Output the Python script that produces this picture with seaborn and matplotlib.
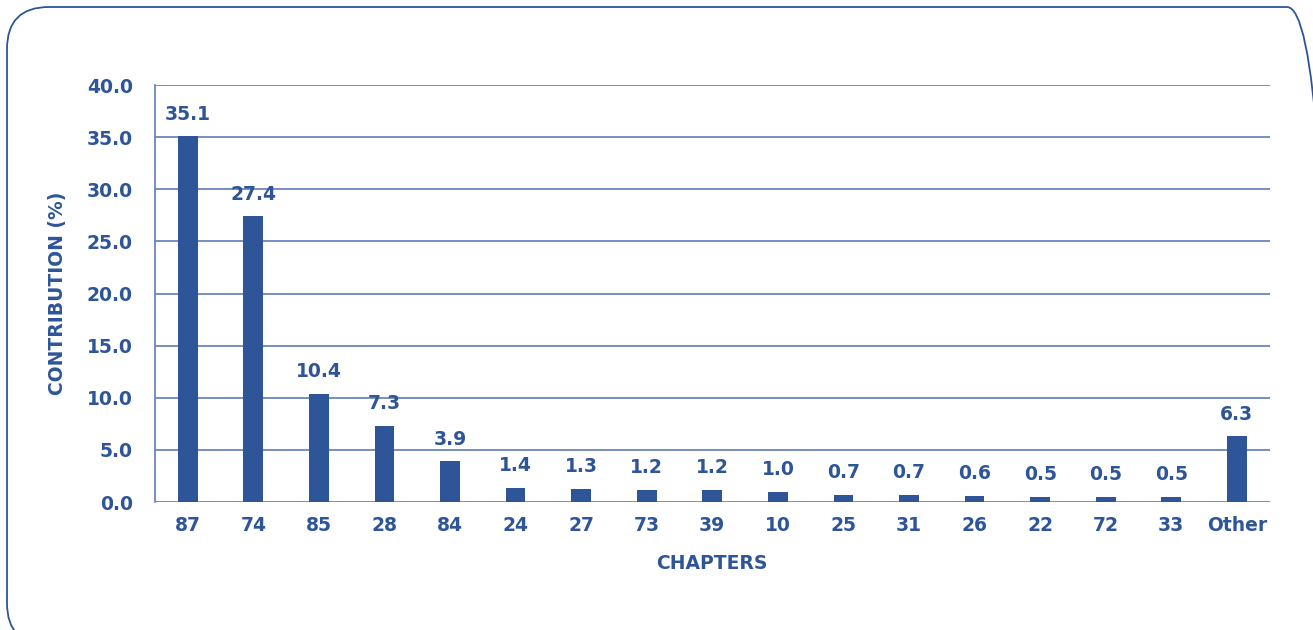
import pandas as pd
import seaborn as sns
import matplotlib.pyplot as plt
from matplotlib.patches import FancyBboxPatch


# data
chapters = ["87", "74", "85", "28", "84", "24", "27", "73", "39", "10",
            "25", "31", "26", "22", "72", "33", "Other"]
contribution = [35.1, 27.4, 10.4, 7.3, 3.9, 1.4, 1.3, 1.2, 1.2, 1.0,
                0.7, 0.7, 0.6, 0.5, 0.5, 0.5, 6.3]
y_ticks = [0, 5, 10, 15, 20, 25, 30, 35, 40]

df = pd.DataFrame({"chapter": chapters, "contribution": contribution})

blue = "#2E5597"
grid_blue = "#5F7DB5"

sns.set_style("white")
plt.rcParams["font.family"] = ["DejaVu Sans"]
plt.rcParams["font.weight"] = "bold"

fig = plt.figure(figsize=(13.13, 6.3), dpi=100)
ax = fig.add_axes([0.118, 0.203, 0.849, 0.662])

sns.barplot(data=df, x="chapter", y="contribution", order=chapters,
            color=blue, saturation=1, width=0.3, linewidth=0, ax=ax, zorder=3)

# value labels on top of the bars
for c in ax.containers:
    ax.bar_label(c, labels=[f"{v:.1f}" for v in contribution], padding=9,
                 color=blue, fontsize=13.5, fontweight="bold")

ax.set_ylim(0, 40)
ax.set_xlim(-0.5, len(chapters) - 0.5)
ax.set_yticks(y_ticks)
ax.set_yticklabels([f"{t:.1f}" for t in y_ticks])

ax.grid(axis="y", color=grid_blue, linewidth=1.2, zorder=0)
ax.grid(axis="x", visible=False)
for s in ["top", "right", "bottom"]:
    ax.spines[s].set_visible(False)
ax.spines["left"].set_color(grid_blue)
ax.spines["left"].set_linewidth(1.2)

ax.tick_params(axis="x", length=0, pad=10, labelsize=13.5, labelcolor=blue)
ax.tick_params(axis="y", length=0, pad=16, labelsize=13.5, labelcolor=blue)
for lab in ax.get_xticklabels() + ax.get_yticklabels():
    lab.set_fontweight("bold")

ax.set_xlabel("CHAPTERS", color=blue, fontsize=13.5, fontweight="bold", labelpad=14)
ax.set_ylabel("CONTRIBUTION (%)", color=blue, fontsize=13.5, fontweight="bold", labelpad=14)

# rounded frame round the whole picture
frame = FancyBboxPatch((7, -15), 1322, 638, boxstyle="round,pad=0,rounding_size=42",
                       transform=None, fill=False, edgecolor=blue, linewidth=1.3,
                       clip_on=False)
fig.patches.append(frame)

fig.savefig("out.png", dpi=100)
